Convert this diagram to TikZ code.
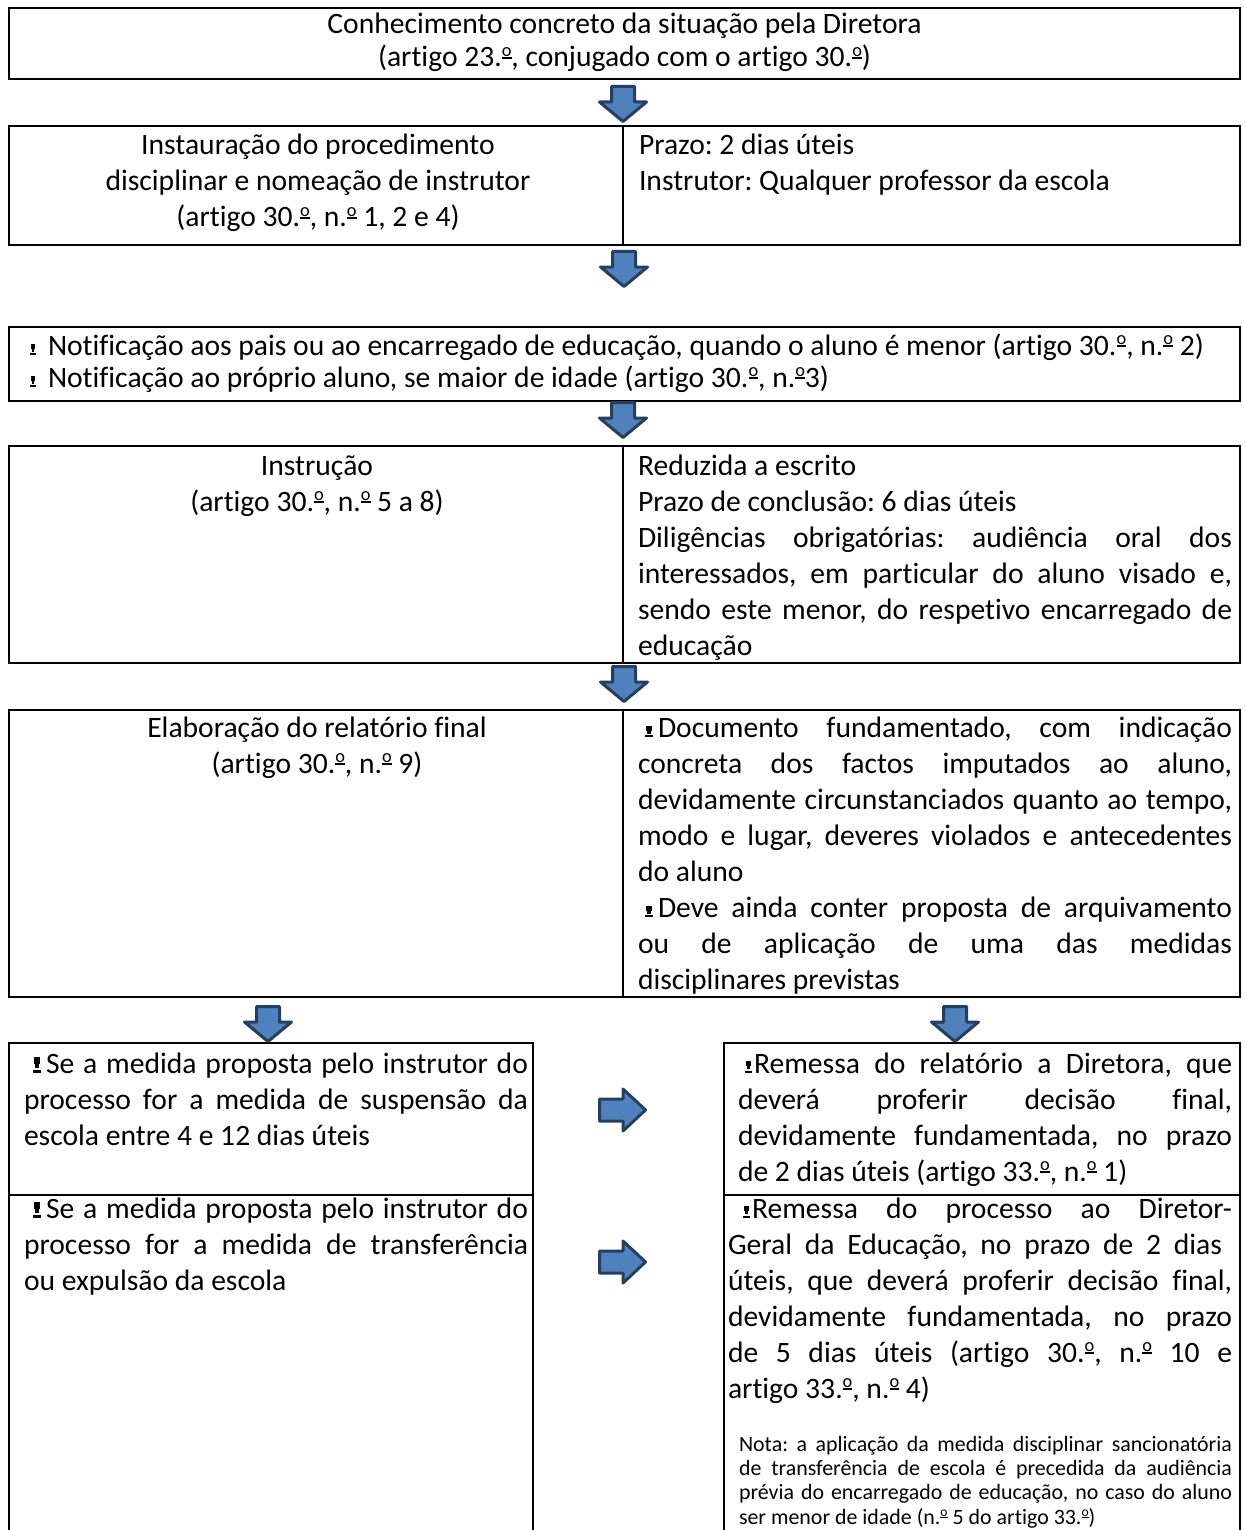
\documentclass[tikz,border=0pt]{standalone}
\usepackage{fontspec}
\setmainfont{Carlito}[Ligatures=NoCommon]
\definecolor{arrowblue}{HTML}{4F81BD}
\definecolor{arrowdark}{HTML}{243F60}
\newcommand\bigfont{\fontsize{29.6}{36}\selectfont}
\newcommand\notefont{\fontsize{21.9}{24.4}\selectfont}
\newcommand\ord{\raisebox{0.37em}{\rlap{\rule[-0.085em]{0.33em}{0.055em}}\scalebox{0.62}{o}}}
\newcommand\exclmark[2]{\makebox[#1pt][l]{%
  \rlap{\rule{#1pt}{\dimexpr #2pt*18/100\relax}}%
  \rlap{\hspace{\dimexpr #1pt*18/100\relax}\rule[\dimexpr #2pt*55/100\relax]{\dimexpr #1pt*64/100\relax}{\dimexpr #2pt*45/100\relax}}%
  \hspace{\dimexpr #1pt*27/100\relax}\rule[\dimexpr #2pt*30/100\relax]{\dimexpr #1pt*46/100\relax}{\dimexpr #2pt*40/100\relax}}}
\newcommand\jtext[2]{\vtop{\hsize=#1\relax\bigfont\frenchspacing\parindent=0pt\leftskip=0pt\rightskip=0pt\parfillskip=0pt plus 1fil\relax #2}}
\newcommand\ltext[2]{\vtop{\hsize=#1\relax\bigfont\frenchspacing\parindent=0pt\raggedright #2}}
\newcommand\ctext[2]{\vtop{\hsize=#1\relax\bigfont\frenchspacing\parindent=0pt\centering #2}}
\begin{document}
\begin{tikzpicture}[x=1pt,y=-1pt,
  frame/.style={draw=black, line width=1.6pt},
  blockarrow/.style={draw=arrowdark, fill=arrowblue, line width=3pt, line join=round},
  txt/.style={inner sep=0pt, outer sep=0pt},
  downarrow/.pic={\path[blockarrow] (-11.5,1.5) -- (11.5,1.5) -- (11.5,17) -- (23.5,17) -- (0,36.5) -- (-23.5,17) -- (-11.5,17) -- cycle;},
  rightarrow/.pic={\path[blockarrow] (1.5,-11) -- (25,-11) -- (25,-21) -- (47.5,0) -- (25,21) -- (25,11) -- (1.5,11) -- cycle;}
]
\useasboundingbox (0,0) rectangle (1244,1530);
\fill[white] (0,0) rectangle (1244,1530);

% boxes
\draw[frame] (9,8) rectangle (1240,79);
\draw[frame] (9,126) rectangle (1240,245);
\draw[frame] (623,126) -- (623,245);
\draw[frame] (9,327) rectangle (1240,401);
\draw[frame] (9,446) rectangle (1240,663);
\draw[frame] (623,446) -- (623,663);
\draw[frame] (9,710) rectangle (1240,997);
\draw[frame] (623,710) -- (623,997);
\draw[frame] (9,1530) -- (9,1043) -- (533,1043) -- (533,1530);
\draw[frame] (9,1195) -- (533,1195);
\draw[frame] (724,1530) -- (724,1043) -- (1240,1043) -- (1240,1530);
\draw[frame] (724,1195) -- (1240,1195);

% arrows
\pic at (623,85) {downarrow};
\pic at (624,250) {downarrow};
\pic at (623,401) {downarrow};
\pic at (624,665) {downarrow};
\pic at (268,1005) {downarrow};
\pic at (955,1005) {downarrow};
\pic at (598,1110) {rightarrow};
\pic at (598,1262) {rightarrow};

% texts
\node[txt, anchor=base] (t1) at (624.5,34) {\ctext{1200pt}{\baselineskip=33pt Conhecimento concreto da situação pela Diretora\\(artigo 23.\ord, conjugado com o artigo 30.\ord)}};

\node[txt, anchor=base] (t2l) at (318,155) {\ctext{600pt}{Instauração do procedimento\\disciplinar e nomeação de instrutor\\(artigo 30.\ord, n.\ord{} 1, 2 e 4)}};
\node[txt, anchor=base west] (t2r) at (639,155) {\ltext{594pt}{Prazo: 2 dias úteis\\Instrutor: Qualquer professor da escola}};

\node[txt, anchor=base west] (t3) at (30,355) {\ltext{1210pt}{\baselineskip=32pt \exclmark{6}{11}\hspace{12pt}Notificação aos pais ou ao encarregado de educação, quando o aluno é menor (artigo 30.\ord, n.\ord{} 2)\\\exclmark{6}{11}\hspace{12pt}Notificação ao próprio aluno, se maior de idade (artigo 30.\ord, n.\ord3)}};

\node[txt, anchor=base] (t4l) at (317,475) {\ctext{600pt}{Instrução\\(artigo 30.\ord, n.\ord{} 5 a 8)}};
\node[txt, anchor=base west] (t4r) at (638,475) {\jtext{594pt}{Reduzida a escrito\par Prazo de conclusão: 6 dias úteis\par Diligências obrigatórias: audiência oral dos\linebreak interessados, em particular do aluno visado e,\linebreak sendo este menor, do respetivo encarregado de\linebreak educação}};

\node[txt, anchor=base] (t5l) at (317,737) {\ctext{600pt}{Elaboração do relatório final\\(artigo 30.\ord, n.\ord{} 9)}};
\node[txt, anchor=base west] (t5r) at (638,737) {\jtext{594pt}{\hspace*{7pt}\exclmark{8}{11}\hspace{5pt}Documento fundamentado, com indicação\linebreak concreta dos factos imputados ao aluno,\linebreak devidamente circunstanciados quanto ao tempo,\linebreak modo e lugar, deveres violados e antecedentes\linebreak do aluno\par \hspace*{7pt}\exclmark{8}{11}\hspace{5pt}Deve ainda conter proposta de arquivamento\linebreak ou de aplicação de uma das medidas\linebreak disciplinares previstas}};

\node[txt, anchor=base west] (t6l1) at (24,1073) {\jtext{504pt}{\hspace*{9pt}\exclmark{8}{16}\hspace{5pt}Se a medida proposta pelo instrutor do\linebreak processo for a medida de suspensão da\linebreak escola entre 4 e 12 dias úteis}};
\node[txt, anchor=base west] (t6l2) at (24,1218) {\jtext{504pt}{\hspace*{9pt}\exclmark{8}{16}\hspace{5pt}Se a medida proposta pelo instrutor do\linebreak processo for a medida de transferência\linebreak ou expulsão da escola}};

\node[txt, anchor=base west] (t6r1) at (738,1073) {\jtext{494pt}{\hspace*{7pt}\exclmark{7}{12}\hspace{2pt}Remessa do relatório a Diretora, que\linebreak deverá proferir decisão final,\linebreak devidamente fundamentada, no prazo\linebreak de 2 dias úteis (artigo 33.\ord, n.\ord{} 1)}};
\node[txt, anchor=base west] (t6r2) at (728,1218) {\jtext{504pt}{\hspace*{15pt}\exclmark{7}{12}\hspace{2pt}Remessa do processo ao Diretor-\linebreak Geral da Educação, no prazo de 2 dias\hspace*{10pt}\linebreak úteis, que deverá proferir decisão final,\linebreak devidamente fundamentada, no prazo\linebreak de 5 dias úteis (artigo 30.\ord, n.\ord{} 10 e\linebreak artigo 33.\ord, n.\ord{} 4)}};

\node[txt, anchor=base west] (nota) at (739,1451) {\vtop{\hsize=493pt\notefont\frenchspacing\parindent=0pt\parfillskip=0pt plus 1fil\relax Nota: a aplicação da medida disciplinar sancionatória\linebreak de transferência de escola é precedida da audiência\linebreak prévia do encarregado de educação, no caso do aluno\linebreak ser menor de idade (n.\ord{} 5 do artigo 33.\ord)}};
\end{tikzpicture}
\end{document}
